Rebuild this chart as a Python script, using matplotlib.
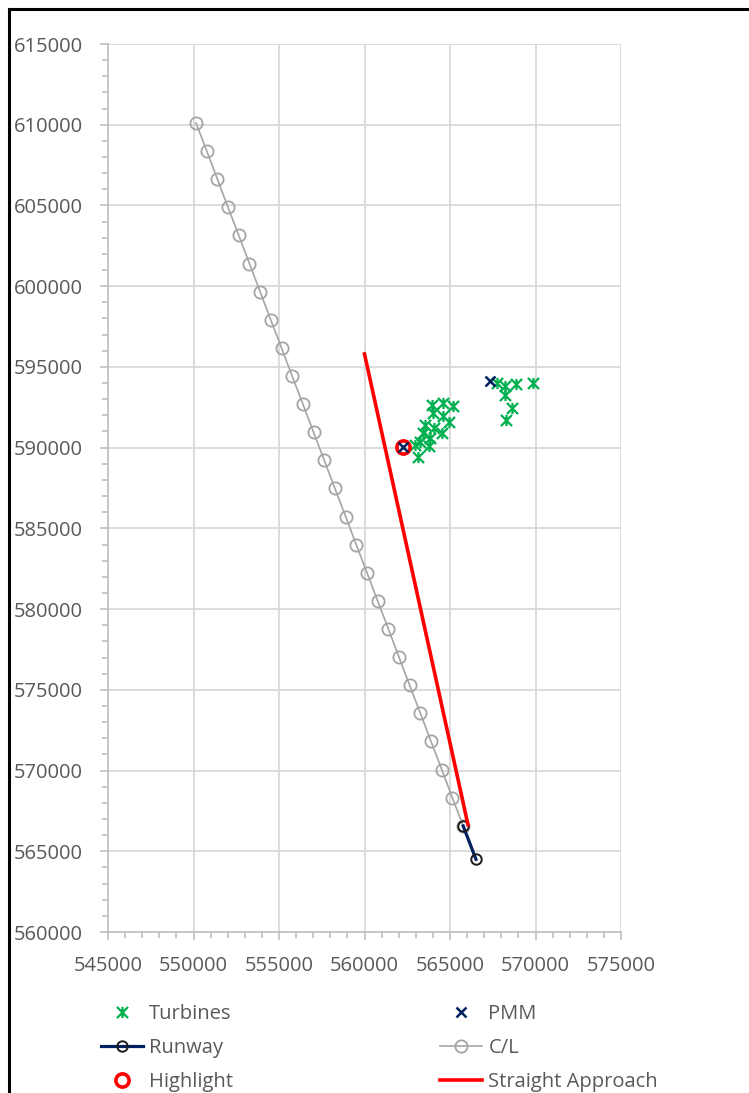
import matplotlib
matplotlib.use("Agg")
import matplotlib.pyplot as plt
from matplotlib.path import Path
from matplotlib.lines import Line2D
from matplotlib.ticker import MultipleLocator

# ---------------- data ----------------
turbines_x = [567730, 568216, 568860, 569871, 568216, 568608, 568275,
              563930, 564608, 565158, 563989, 564573, 564959, 563538,
              564064, 564515, 563439, 563831, 563246, 563790, 562953, 563146]
turbines_y = [594020, 593817, 593940, 593984, 593259, 592436, 591711,
              592640, 592745, 592578, 592125, 591958, 591606, 591401,
              591196, 590887, 590887, 590577, 590367, 590100, 590162, 589437]

pmm_x = [562270, 567340]
pmm_y = [590060, 594145]

runway_x = [565770, 566520]
runway_y = [566570, 564500]

cl_x = [550150, 550780, 551400, 552020, 552650, 553270, 553900, 554520,
        555150, 555770, 556400, 557020, 557650, 558270, 558900, 559520,
        560150, 560770, 561400, 562020, 562640, 563270, 563890, 564520,
        565140, 565770]
cl_y = [610100, 608360, 606620, 604880, 603140, 601400, 599650, 597910,
        596170, 594430, 592690, 590950, 589210, 587470, 585730, 583980,
        582240, 580500, 578760, 577020, 575280, 573540, 571800, 570060,
        568310, 566570]

highlight_x = [562270]
highlight_y = [590060]

approach_x = [560000, 566050]
approach_y = [595800, 566650]

x_ticks = [545000, 550000, 555000, 560000, 565000, 570000, 575000]
y_ticks = [560000, 565000, 570000, 575000, 580000, 585000, 590000,
           595000, 600000, 605000, 610000, 615000]

# ---------------- style ----------------
W, H = 749, 1093
plt.rcParams['font.family'] = ['Open Sans', 'DejaVu Sans']
FS = 14.5
TXT = '#595959'
AXC = '#BFBFBF'
GRID = '#D9D9D9'

fig = plt.figure(figsize=(W / 100, H / 100), dpi=100)
ax = fig.add_axes([108 / W, 1 - 932 / H, (621 - 108) / W, (932 - 44) / H])

# Excel "star" marker: x with a vertical bar
star = Path([(-1, -1), (1, 1), (-1, 1), (1, -1), (0, -1), (0, 1)],
            [Path.MOVETO, Path.LINETO, Path.MOVETO, Path.LINETO,
             Path.MOVETO, Path.LINETO])

ax.plot(turbines_x, turbines_y, linestyle='none', marker=star,
        markersize=8, markeredgewidth=1.6, color='#00B050',
        label='Turbines', zorder=3)
ax.plot(cl_x, cl_y, color='#A5A5A5', lw=1.2, marker='o', markersize=8.8,
        markerfacecolor='none', markeredgecolor='#A5A5A5',
        markeredgewidth=1.3, label='C/L', zorder=3)
ax.plot(runway_x, runway_y, color='#002060', lw=2.3, marker='o',
        markersize=7.5, markerfacecolor='none', markeredgecolor='#1a1a1a',
        markeredgewidth=1.4, label='Runway', zorder=4)
ax.plot(highlight_x, highlight_y, linestyle='none', marker='o',
        markersize=9.5, markerfacecolor='none', markeredgecolor='#FF0000',
        markeredgewidth=2.6, label='Highlight', zorder=4)
ax.plot(approach_x, approach_y, color='#FF0000', lw=2.6,
        label='Straight Approach', zorder=5)
ax.plot(pmm_x, pmm_y, linestyle='none', marker='x', markersize=7,
        markeredgewidth=1.8, color='#002060', label='PMM', zorder=6)

ax.set_xlim(545000, 575000)
ax.set_ylim(560000, 615000)
ax.set_xticks(x_ticks)
ax.set_xticklabels([str(v) for v in x_ticks])
ax.set_yticks(y_ticks)
ax.set_yticklabels([str(v) for v in y_ticks])
ax.xaxis.set_minor_locator(MultipleLocator(1000))
ax.yaxis.set_minor_locator(MultipleLocator(1000))

ax.grid(True, which='major', color=GRID, lw=1.3, zorder=0)
ax.set_axisbelow(True)
for s in ['top', 'right']:
    ax.spines[s].set_visible(False)
for s in ['left', 'bottom']:
    ax.spines[s].set_color(AXC)
    ax.spines[s].set_linewidth(1.2)

ax.tick_params(axis='both', which='major', direction='out', length=6,
               width=1.2, color=AXC, labelsize=FS, labelcolor=TXT)
ax.tick_params(axis='both', which='minor', direction='out', length=4.5,
               width=1.2, color=AXC)
ax.tick_params(axis='y', which='major', pad=12)
ax.tick_params(axis='x', which='major', pad=11)

# ---------------- legend (two columns) ----------------
handles = {h.get_label(): h for h in ax.get_lines()}
common = dict(frameon=False, fontsize=FS, labelcolor=TXT, handlelength=2.1,
              handletextpad=0.3, labelspacing=0.69, borderpad=0,
              borderaxespad=0, loc='upper left')
leg1 = fig.legend([handles['Turbines'], handles['Runway'], handles['Highlight']],
                  ['Turbines', 'Runway', 'Highlight'],
                  bbox_to_anchor=(101 / W, 1 - 1004 / H), **common)
leg2 = fig.legend([handles['PMM'], handles['C/L'], handles['Straight Approach']],
                  ['PMM', 'C/L', 'Straight Approach'],
                  bbox_to_anchor=(440 / W, 1 - 1004 / H), **common)

# ---------------- outer border (top & left visible) ----------------
fig.add_artist(Line2D([9 / W, 9 / W], [0, 1 - 9 / H], transform=fig.transFigure,
                      color='black', lw=2.2))
fig.add_artist(Line2D([9 / W, 1], [1 - 9 / H, 1 - 9 / H], transform=fig.transFigure,
                      color='black', lw=2.2))

fig.savefig('out.png', dpi=100)
